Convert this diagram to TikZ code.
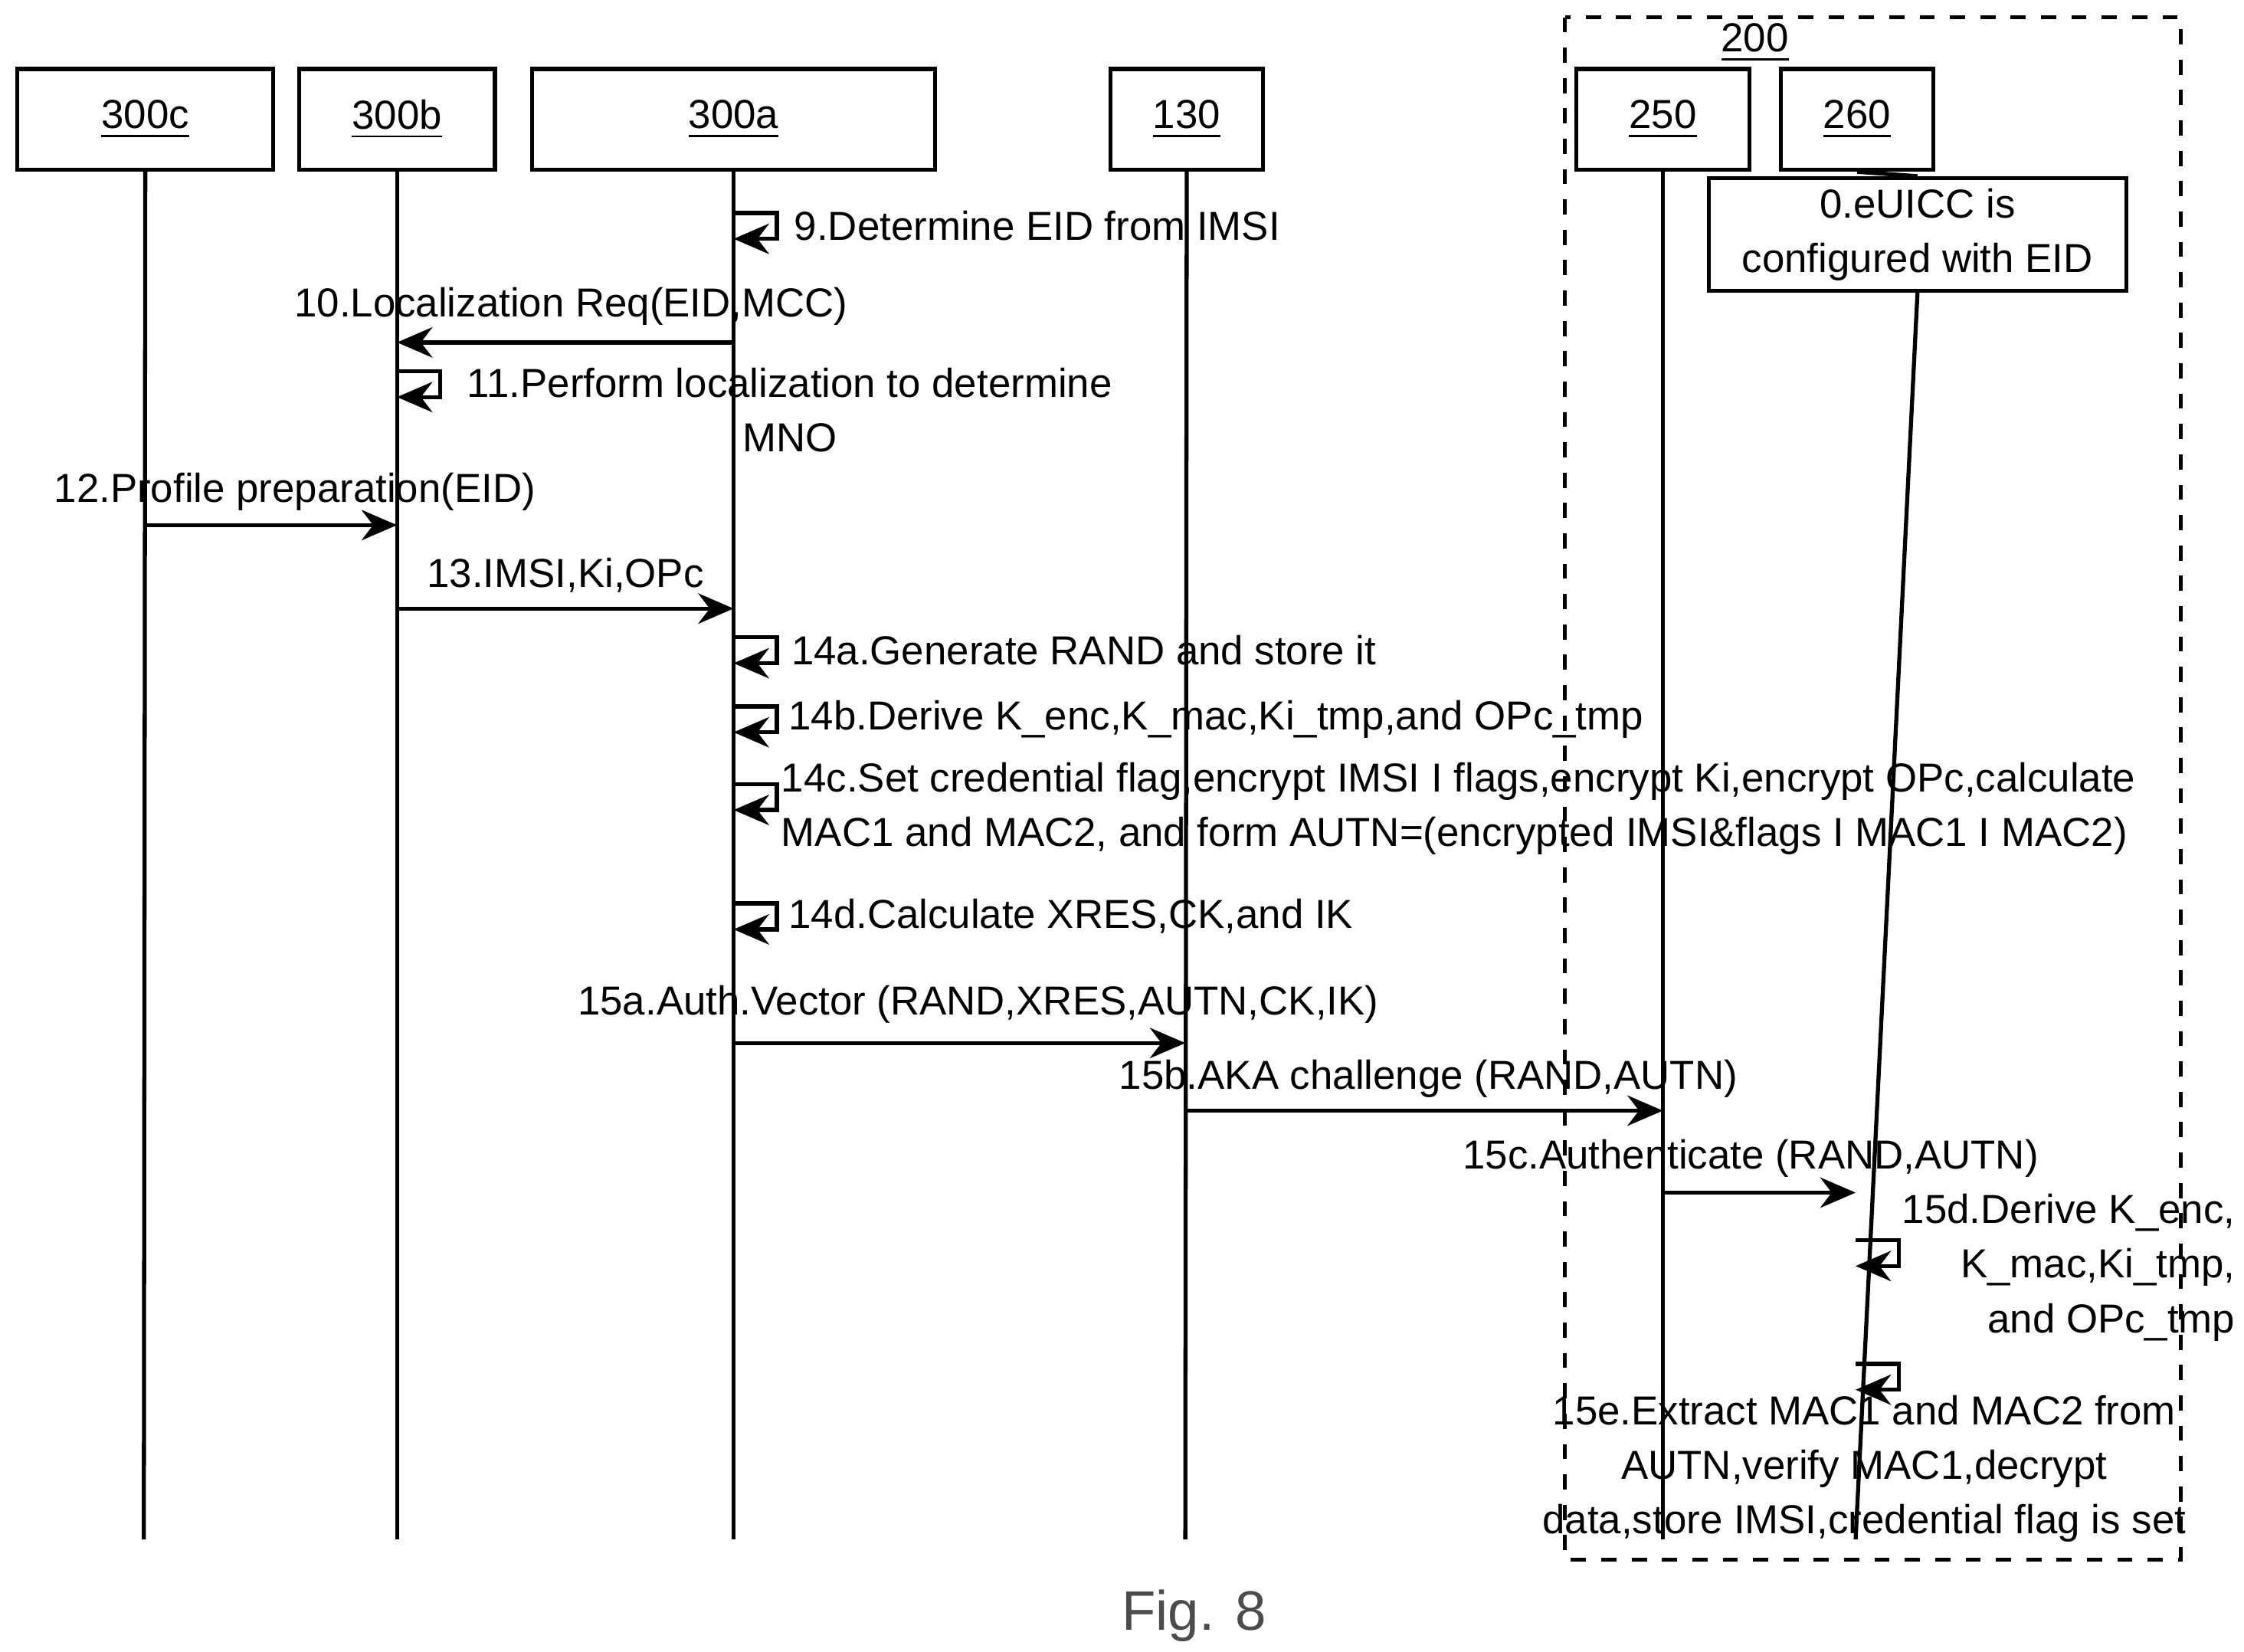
\documentclass[tikz,border=0pt]{standalone}
\usepackage{fontspec}
\setmainfont{Liberation Sans}
\usetikzlibrary{arrows.meta,positioning}
\tikzset{
  entity/.style={draw,thick,minimum height=0.7cm,inner sep=0pt,font=\fontsize{8}{10}\selectfont},
  life/.style={thick},
  msg/.style={thick,-{Stealth[length=7pt,width=6pt]}},
  lbl/.style={inner sep=1pt,font=\fontsize{8}{10.8}\selectfont}
}
\newcommand{\selfloop}[2]{\draw[msg] (#1 |- 0,#2) -- ++(30,0) -- ++(0,18) -- ++(-30,0);}
\begin{document}
\begin{tikzpicture}[x=0.01cm,y=-0.01cm]
  \useasboundingbox (0,0) rectangle (1560,1148);

  % group 200
  \draw[thick,dashed] (1088,12) rectangle (1516,1084);
  \node[lbl] (g200) at (1220,30) {\underline{200}};

  % entities
  \node[entity,minimum width=1.78cm] (e300c) at (101,83) {\underline{300c}};
  \node[entity,minimum width=1.36cm] (e300b) at (276,83) {\underline{300b}};
  \node[entity,minimum width=2.80cm] (e300a) at (510,83) {\underline{300a}};
  \node[entity,minimum width=1.06cm] (e130) at (825,83) {\underline{130}};
  \node[entity,minimum width=1.20cm] (e250) at (1156,83) {\underline{250}};
  \node[entity,minimum width=1.06cm] (e260) at (1291,83) {\underline{260}};

  % lifelines
  \foreach \n/\x in {300c/100,300b/276,300a/510,130/824,250/1156,260/1290} {
    \coordinate (l\n) at (\x,0);
    \coordinate (b\n) at (\x,1070);
  }
  \foreach \n in {300c,300b,300a,130,250} \draw[life] (e\n.south) -- (b\n);
  \node[draw,thick,lbl,align=center,minimum width=2.9cm,inner sep=2pt] (cfg) at (1333,163)
    {0.eUICC is\\configured with EID};
  \draw[life] (e260.south) -- (cfg.north);
  \draw[life] (cfg.south) -- (b260);

  % messages
  \selfloop{l300a}{148}
  \node[lbl,anchor=west] (m9) at (548,157) {9.Determine EID from IMSI};

  \draw[msg] (l300a |- 0,238) -- (l300b |- 0,238);
  \node[lbl] (m10) at (397,213) {10.Localization Req(EID,MCC)};

  \selfloop{l300b}{258}
  \node[lbl,align=center] (m11) at (549,285) {11.Perform localization to determine\\MNO};

  \draw[msg] (l300c |- 0,365) -- (l300b |- 0,365);
  \node[lbl] (m12) at (205,342) {12.Profile preparation(EID)};

  \draw[msg] (l300b |- 0,423) -- (l300a |- 0,423);
  \node[lbl] (m13) at (393,400) {13.IMSI,Ki,OPc};

  \selfloop{l300a}{443}
  \node[lbl,anchor=west] (m14a) at (546,452) {14a.Generate RAND and store it};

  \selfloop{l300a}{491}
  \node[lbl,anchor=west] (m14b) at (544,500) {14b.Derive K\_enc,K\_mac,Ki\_tmp,and OPc\_tmp};

  \selfloop{l300a}{545}
  \node[lbl,anchor=west,align=left] (m14c) at (539,562)
    {14c.Set credential flag,encrypt IMSI I flags,encrypt Ki,encrypt OPc,calculate\\MAC1 and MAC2, and form AUTN=(encrypted IMSI\&flags I MAC1 I MAC2)};

  \selfloop{l300a}{628}
  \node[lbl,anchor=west] (m14d) at (544,637) {14d.Calculate XRES,CK,and IK};

  \draw[msg] (l300a |- 0,725) -- (l130 |- 0,725);
  \node[lbl] (m15a) at (680,698) {15a.Auth.Vector (RAND,XRES,AUTN,CK,IK)};

  \draw[msg] (l130 |- 0,772) -- (l250 |- 0,772);
  \node[lbl] (m15b) at (993,750) {15b.AKA challenge (RAND,AUTN)};

  \draw[msg] (l250 |- 0,829) -- (l260 |- 0,829);
  \node[lbl] (m15c) at (1217,805) {15c.Authenticate (RAND,AUTN)};

  \selfloop{l260}{862}
  \node[lbl,anchor=east,align=right] (m15d) at (1558,881) {15d.Derive K\_enc,\\K\_mac,Ki\_tmp,\\and OPc\_tmp};

  \selfloop{l260}{948}
  \node[lbl,align=center] (m15e) at (1296,1021)
    {15e.Extract MAC1 and MAC2 from\\AUTN,verify MAC1,decrypt\\data,store IMSI,credential flag is set};

  \node[font=\fontsize{11}{13}\selectfont,text=black!70] (fig) at (830,1123) {Fig. 8};
\end{tikzpicture}
\end{document}
